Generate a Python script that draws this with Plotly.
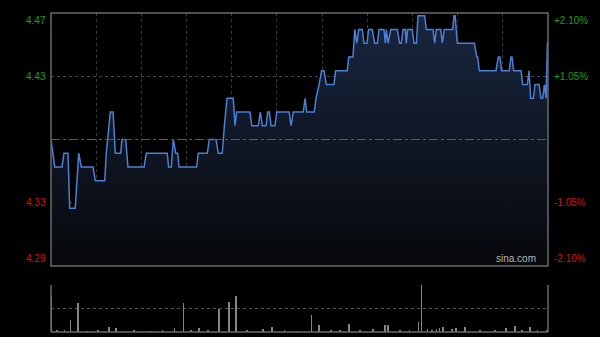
import plotly.graph_objects as go

prev_close = 4.38

# intraday minutes since open (0..330) and price at each breakpoint
minutes = [0, 2.5, 7.3, 8.6, 11.3, 12.4, 16.1, 18.4, 20.1, 27.9, 29.4, 35.7, 36.7, 39.4, 41.2,
           42.7, 46.3, 47.1, 49.6, 51.1, 61.8, 63.3, 77.2, 78.1, 79.9, 81.2, 82.8, 84.1, 85,
           96.7, 97.8, 103.8, 105.1, 109.6, 111.1, 113.7, 115.1, 116.9, 121.0, 122.2, 123.3,
           132.1, 133.3, 137.6, 139, 140.3, 142.8, 143.9, 145, 146.1, 148.7, 149.9, 158.2,
           159.4, 160.9, 167.5, 168.7, 169.8, 174.8, 176, 178, 179.7, 181.3, 182.8, 187.9,
           189, 196.7, 197.7, 200.5, 201.7, 203, 204.3, 206.7, 207.8, 209.8, 210.9, 213.3,
           214.9, 216.7, 217.8, 221.1, 222, 222.7, 223.8, 225.6, 229.9, 231.5, 232.6, 233.7,
           235.3, 235.9, 236.8, 239.9, 241, 242.6, 243.7, 248.1, 249.2, 253.6, 254.8, 255.8,
           258.8, 259.8, 261.2, 266.7, 267.6, 268.3, 269.8, 281.1, 282.7, 283.3, 284.4, 295.5,
           297, 298.1, 299.2, 304.3, 305.4, 306.1, 307.2, 312.1, 313.2, 316.3, 317.4, 318.5,
           320.3, 321.4, 324, 325.4, 326.5, 327.6, 328.7, 329.6, 330]
prices = [4.38, 4.36, 4.36, 4.37, 4.37, 4.33, 4.33, 4.37, 4.36, 4.36, 4.35, 4.35, 4.37, 4.40, 4.40,
          4.37, 4.37, 4.38, 4.38, 4.36, 4.36, 4.37, 4.37, 4.36, 4.36, 4.38, 4.37, 4.37, 4.36,
          4.36, 4.37, 4.37, 4.38, 4.38, 4.37, 4.37, 4.39, 4.41, 4.41, 4.39, 4.40,
          4.40, 4.39, 4.39, 4.40, 4.39, 4.39, 4.40, 4.40, 4.39, 4.39, 4.40, 4.40,
          4.39, 4.40, 4.40, 4.41, 4.40, 4.40, 4.41, 4.42, 4.43, 4.43, 4.42, 4.42,
          4.43, 4.43, 4.44, 4.44, 4.46, 4.45, 4.46, 4.46, 4.45, 4.45, 4.46, 4.46,
          4.45, 4.45, 4.46, 4.46, 4.45, 4.46, 4.45, 4.46, 4.46, 4.45, 4.45, 4.46,
          4.46, 4.45, 4.46, 4.46, 4.45, 4.45, 4.47, 4.47, 4.46, 4.46, 4.45, 4.46,
          4.46, 4.45, 4.46, 4.46, 4.47, 4.47, 4.45, 4.45, 4.44, 4.44, 4.43, 4.43,
          4.44, 4.44, 4.43, 4.43, 4.44, 4.44, 4.43, 4.43, 4.42, 4.42, 4.43, 4.41,
          4.41, 4.42, 4.42, 4.41, 4.41, 4.42, 4.41, 4.45, 4.45]

# volume bars (thousand shares)
vol_minutes = [0, 4, 9, 13, 18, 24, 31, 38.5, 43, 55, 66, 74, 82, 88, 93, 98, 104, 111.5, 118, 123,
               130, 141, 146.5, 155, 163, 173, 178, 186, 192, 198, 205, 214, 222, 224, 232, 238,
               244, 246, 250, 253, 256, 258, 260.5, 266, 269, 275, 285, 295, 302, 308, 313, 318,
               323, 329]
vol_values = [370, 15, 12, 120, 290, 10, 14, 50, 45, 12, 10, 15, 40, 290, 12, 45, 14, 230, 300, 360,
              12, 30, 50, 12, 10, 175, 70, 14, 12, 80, 15, 30, 70, 70, 12, 14,
              100, 470, 30, 25, 35, 45, 50, 30, 40, 50, 15, 12, 40, 60, 15, 50,
              14, 20]

left_ticks = ["4.47", "4.43", "4.33", "4.29"]
right_ticks = ["+2.10%", "+1.05%", "-1.05%", "-2.10%"]
pct_levels = [0.021, 0.0105, -0.0105, -0.021]

ymin = prev_close * (1 - 0.021)
ymax = prev_close * (1 + 0.021)

GREEN = "#16a016"
RED = "#d41414"
GRID = "#3a3a3a"
BORDER = "#6a6a6a"

fig = go.Figure()

fig.add_trace(go.Scatter(x=[0, 330], y=[ymin, ymin], mode="lines",
                         line=dict(width=0), hoverinfo="skip", showlegend=False,
                         xaxis="x", yaxis="y"))
fig.add_trace(go.Scatter(x=minutes, y=prices, mode="lines",
                         line=dict(color="#4b80d6", width=1.5),
                         fill="tonexty",
                         fillgradient=dict(type="vertical",
                                           colorscale=[[0, "#07080b"], [1, "#18263f"]]),
                         showlegend=False, xaxis="x", yaxis="y"))

fig.add_trace(go.Bar(x=vol_minutes, y=vol_values, width=0.55,
                     marker=dict(color="#858585", line=dict(width=0)),
                     showlegend=False, xaxis="x2", yaxis="y2"))

xd = [51 / 600, 548 / 600]
fig.update_layout(
    width=600, height=337,
    margin=dict(l=0, r=0, t=0, b=0),
    paper_bgcolor="#000000", plot_bgcolor="#000000",
    bargap=0,
    xaxis=dict(domain=xd, range=[0, 330], tickvals=list(range(30, 330, 30)),
               showticklabels=False, showgrid=True, gridcolor=GRID, griddash="dot",
               gridwidth=1, zeroline=False, showline=False, ticks=""),
    yaxis=dict(domain=[1 - 266 / 337, 1 - 13 / 337], range=[ymin, ymax],
               tickvals=[prev_close * 1.0105, prev_close * 0.9895],
               showticklabels=False, showgrid=True, gridcolor="#4a4a4a", griddash="dot",
               zeroline=False, showline=False, ticks=""),
    xaxis2=dict(domain=xd, range=[0, 330], showticklabels=False, showgrid=False,
                zeroline=False, showline=False, ticks=""),
    yaxis2=dict(domain=[1 - 332 / 337, 1 - 285 / 337], range=[0, 470],
                tickvals=[235, 470], showticklabels=False, showgrid=True,
                gridcolor="#555555", griddash="dot", zeroline=False, showline=False, ticks=""),
)

shapes = [
    dict(type="line", xref="x", yref="y", x0=0, x1=330, y0=prev_close, y1=prev_close,
         line=dict(color="#5a5a5a", width=1, dash="dashdot"), layer="above"),
    dict(type="rect", xref="x domain", yref="y domain", x0=0, x1=1, y0=0, y1=1,
         line=dict(color=BORDER, width=1.5), layer="above"),
    dict(type="line", xref="x2 domain", yref="y2 domain", x0=0, x1=0, y0=0, y1=1,
         line=dict(color=BORDER, width=1.5)),
    dict(type="line", xref="x2 domain", yref="y2 domain", x0=1, x1=1, y0=0, y1=1,
         line=dict(color=BORDER, width=1.5)),
    dict(type="line", xref="x2 domain", yref="y2 domain", x0=0, x1=1, y0=0, y1=0,
         line=dict(color=BORDER, width=1.5)),
]
fig.update_layout(shapes=shapes)

annotations = []
n = len(pct_levels)
for i, (p, lt, rt) in enumerate(zip(pct_levels, left_ticks, right_ticks)):
    yv = prev_close * (1 + p)
    anchor = "top" if i == 0 else ("bottom" if i == n - 1 else "middle")
    col = GREEN if p > 0 else RED
    annotations.append(dict(xref="paper", yref="y", x=48 / 600, y=yv, text=lt,
                            xanchor="right", yanchor=anchor, showarrow=False,
                            font=dict(family="Liberation Sans, Arial", size=10, color=col)))
    annotations.append(dict(xref="paper", yref="y", x=552 / 600, y=yv, text=rt,
                            xanchor="left", yanchor=anchor, showarrow=False,
                            font=dict(family="Liberation Sans, Arial", size=10, color=col)))
annotations.append(dict(xref="paper", yref="y", x=538 / 600, y=ymin, text="sina.com",
                        xanchor="right", yanchor="bottom", showarrow=False,
                        font=dict(family="Liberation Sans, Arial", size=10, color="#b4b4b4")))
fig.update_layout(annotations=annotations)

fig.write_html("out.html")
